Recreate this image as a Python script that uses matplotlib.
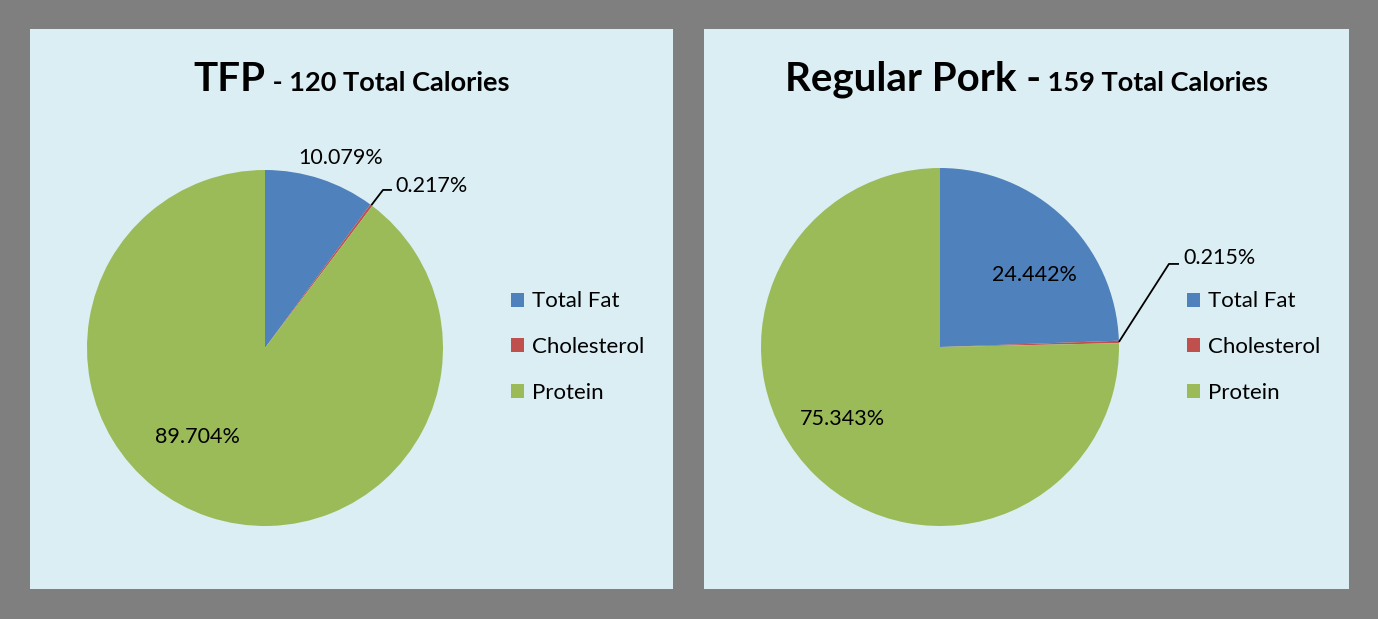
import numpy as np
import matplotlib
matplotlib.use('Agg')
import matplotlib.pyplot as plt

categories = ['Total Fat', 'Cholesterol', 'Protein']
tfp_pct = [10.079, 0.217, 89.704]
pork_pct = [24.442, 0.215, 75.343]
titles_big = ['TFP', 'Regular Pork -']
titles_small = [' - 120 Total Calories', ' 159 Total Calories']
colors = ['#4F81BD', '#C0504D', '#9BBB59']

FONT = 'Lato'
W, H = 1378, 619
fig = plt.figure(figsize=(W / 100, H / 100), dpi=100, facecolor='#7F7F7F')


def px_axes(x0, y0, x1, y1, **kw):
    return fig.add_axes([x0 / W, 1 - y1 / H, (x1 - x0) / W, (y1 - y0) / H], **kw)


panels = [
    dict(box=(30, 29, 673, 589), center=(265, 348), r=178, values=tfp_pct,
         fat=(0.427, 1.067), prot=(-0.382, -0.50),
         chol_text=(0.73, 0.91), elbow=(0.663, 0.888), end=(0.713, 0.888),
         legend=(511, 347), title_y=91),
    dict(box=(704, 29, 1349, 589), center=(940, 347), r=179, values=pork_pct,
         fat=(0.53, 0.40), prot=(-0.547, -0.402),
         chol_text=(1.358, 0.497), elbow=(1.279, 0.464), end=(1.335, 0.464),
         legend=(1187, 347), title_y=91),
]

fig.canvas.draw()
renderer = fig.canvas.get_renderer()

for i, p in enumerate(panels):
    x0, y0, x1, y1 = p['box']
    bg = px_axes(x0, y0, x1, y1)
    bg.set_facecolor('#DBEEF4')
    bg.set_xticks([]); bg.set_yticks([])
    for s in bg.spines.values():
        s.set_visible(False)

    cx, cy = p['center']
    r = p['r']
    ax = px_axes(cx - r, cy - r, cx + r, cy + r)
    wedges, _ = ax.pie(p['values'], colors=colors, startangle=90, counterclock=False,
                       wedgeprops=dict(linewidth=0))
    ax.set_xlim(-1, 1); ax.set_ylim(-1, 1)
    ax.set_aspect('equal')
    ax.axis('off')

    vals = p['values']
    fs = 15.5
    ax.text(*p['fat'], f'{vals[0]:.3f}%', ha='center', va='center', fontsize=fs,
            family=FONT, clip_on=False)
    ax.text(*p['prot'], f'{vals[2]:.3f}%', ha='center', va='center', fontsize=fs,
            family=FONT, clip_on=False)
    w = wedges[1]
    mid = np.deg2rad((w.theta1 + w.theta2) / 2)
    ax.plot([np.cos(mid), p['elbow'][0], p['end'][0]],
            [np.sin(mid), p['elbow'][1], p['end'][1]], color='black', lw=1.3,
            clip_on=False, solid_capstyle='butt')
    ax.text(*p['chol_text'], f'{vals[1]:.3f}%', ha='left', va='center', fontsize=fs,
            family=FONT, clip_on=False)

    lx, ly = p['legend']
    lfs = 16
    ax.legend(wedges, categories, loc='center left',
              bbox_to_anchor=(lx / W, 1 - ly / H), bbox_transform=fig.transFigure,
              frameon=False, prop=dict(family=FONT, size=lfs),
              handlelength=0.6, handleheight=0.6, handletextpad=0.35,
              labelspacing=1.15, borderpad=0, borderaxespad=0)

    # title
    tb = fig.text(0, 0, titles_big[i], fontsize=29, fontweight='bold', family=FONT,
                  ha='left', va='baseline')
    ts = fig.text(0, 0, titles_small[i], fontsize=19.5, fontweight='bold', family=FONT,
                  ha='left', va='baseline')
    wb = tb.get_window_extent(renderer).width
    wsm = ts.get_window_extent(renderer).width
    pcx = (x0 + x1) / 2
    start = pcx - (wb + wsm) / 2
    by = 1 - p['title_y'] / H
    tb.set_position((start / W, by))
    ts.set_position(((start + wb) / W, by))

fig.savefig('out.png', dpi=100, facecolor=fig.get_facecolor())
